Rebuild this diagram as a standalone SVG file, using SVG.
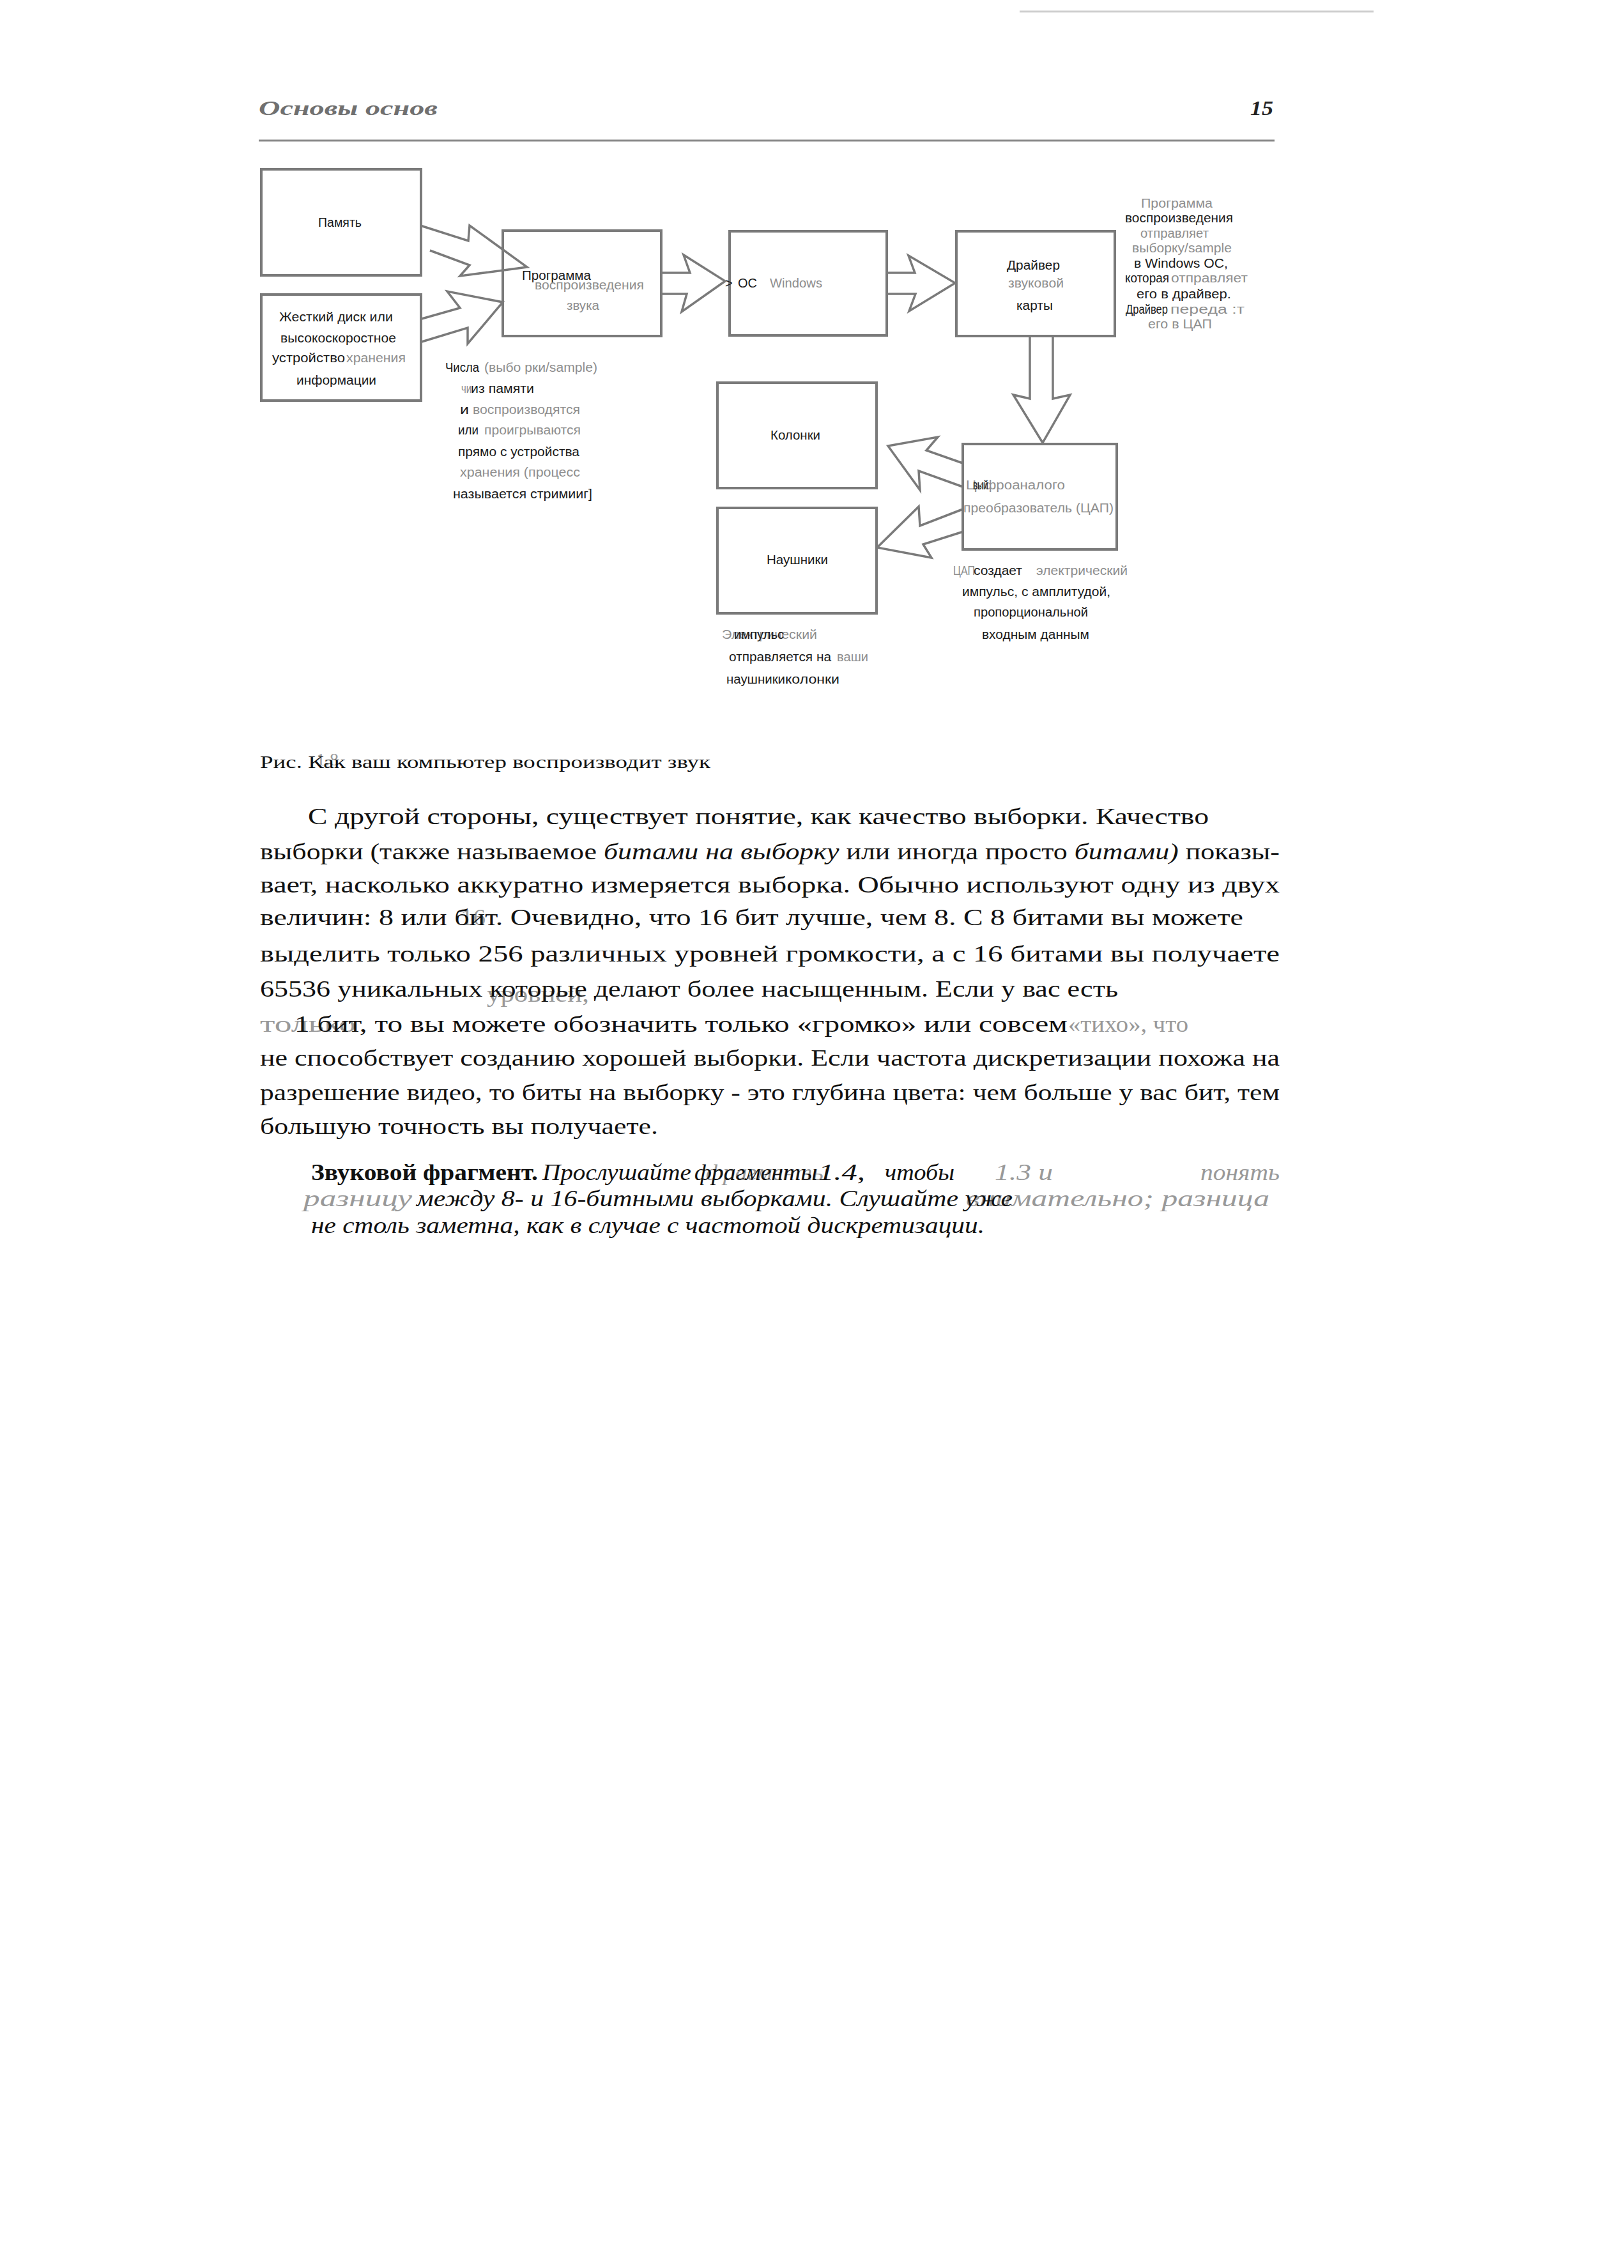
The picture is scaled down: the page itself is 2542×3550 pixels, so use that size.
<svg xmlns="http://www.w3.org/2000/svg" width="2542" height="3550" viewBox="0 0 2542 3550">
<style>
.lb{font-family:"Liberation Sans",Arial,sans-serif;font-size:20px;fill:#1a1a1a}
.lg{font-family:"Liberation Sans",Arial,sans-serif;font-size:20px;fill:#8e8e8e}
.bt{font-family:"Liberation Serif","Times New Roman",serif;font-size:35px;fill:#111}
.bg{font-family:"Liberation Serif","Times New Roman",serif;font-size:35px;fill:#999}
.it{font-style:italic}
.box{fill:none;stroke:#7a7a7a;stroke-width:4}
.arr{fill:none;stroke:#7a7a7a;stroke-width:3.5;stroke-linejoin:miter}
</style>
<rect width="2542" height="3550" fill="#ffffff"/>

<!-- page header -->
<line x1="1596" y1="18" x2="2150" y2="18" stroke="#cfcfcf" stroke-width="3"/>
<text x="405" y="180" font-family="Liberation Serif, serif" font-size="32" font-weight="bold" font-style="italic" fill="#707070" textLength="280" lengthAdjust="spacingAndGlyphs">Основы основ</text>
<text x="1957" y="180" font-family="Liberation Serif, serif" font-size="32" font-weight="bold" font-style="italic" fill="#222" textLength="36" lengthAdjust="spacingAndGlyphs">15</text>
<line x1="405" y1="220" x2="1995" y2="220" stroke="#8a8a8a" stroke-width="3"/>

<!-- nodes -->
<g id="n-memory">
<rect class="box" x="409" y="265" width="250" height="166"/>
<text class="lb" x="498" y="355" textLength="68" lengthAdjust="spacingAndGlyphs">Память</text>
</g>
<g id="n-disk">
<rect class="box" x="409" y="461" width="250" height="166"/>
<text class="lb" x="437" y="503" textLength="178" lengthAdjust="spacingAndGlyphs">Жесткий диск или</text>
<text class="lb" x="439" y="536" textLength="181" lengthAdjust="spacingAndGlyphs">высокоскоростное</text>
<text class="lb" x="426" y="567" textLength="114" lengthAdjust="spacingAndGlyphs">устройство</text>
<text class="lg" x="542" y="567" textLength="93" lengthAdjust="spacingAndGlyphs">хранения</text>
<text class="lb" x="464" y="602" textLength="125" lengthAdjust="spacingAndGlyphs">информации</text>
</g>
<g id="n-program">
<rect class="box" x="787" y="361" width="248" height="165"/>
<text class="lg" x="837" y="453" textLength="171" lengthAdjust="spacingAndGlyphs">воспроизведения</text>
<text class="lb" x="817" y="438" textLength="108" lengthAdjust="spacingAndGlyphs">Программа</text>
<text class="lg" x="887" y="485" textLength="51" lengthAdjust="spacingAndGlyphs">звука</text>
</g>
<g id="n-os">
<rect class="box" x="1142" y="362" width="246" height="163"/>
<text class="lb" x="1135" y="450">&gt;</text>
<text class="lb" x="1155" y="450" textLength="30" lengthAdjust="spacingAndGlyphs">ОС</text>
<text class="lg" x="1205" y="450" textLength="82" lengthAdjust="spacingAndGlyphs">Windows</text>
</g>
<g id="n-driver">
<rect class="box" x="1497" y="362" width="248" height="164"/>
<text class="lb" x="1576" y="422" textLength="83" lengthAdjust="spacingAndGlyphs">Драйвер</text>
<text class="lg" x="1578" y="450" textLength="87" lengthAdjust="spacingAndGlyphs">звуковой</text>
<text class="lb" x="1591" y="485" textLength="57" lengthAdjust="spacingAndGlyphs">карты</text>
</g>
<g id="n-speakers">
<rect class="box" x="1123" y="599" width="249" height="165"/>
<text class="lb" x="1206" y="688" textLength="78" lengthAdjust="spacingAndGlyphs">Колонки</text>
</g>
<g id="n-headphones">
<rect class="box" x="1123" y="795" width="249" height="165"/>
<text class="lb" x="1200" y="883" textLength="96" lengthAdjust="spacingAndGlyphs">Наушники</text>
</g>
<g id="n-dac">
<rect class="box" x="1507" y="695" width="241" height="165"/>
<text class="lg" x="1512" y="766" textLength="155" lengthAdjust="spacingAndGlyphs">Цифроаналого</text>
<text class="lb" x="1523" y="766" textLength="24" lengthAdjust="spacingAndGlyphs">вый</text>
<text class="lg" x="1508" y="802" textLength="235" lengthAdjust="spacingAndGlyphs">преобразователь (ЦАП)</text>
</g>

<!-- connectors -->
<g id="connectors">
<polyline class="arr" points="658,353 733,377 735,353 825,418 720,432 735,415 673,392"/>
<polyline class="arr" points="660,499 720,482 700,456 787,473 732,538 732,513 660,535"/>
<polyline class="arr" points="1037,427 1080,427 1070,399 1135,440 1067,488 1075,460 1037,460"/>
<polyline class="arr" points="1390,427 1432,427 1422,400 1495,443 1423,487 1433,460 1390,460"/>
<polyline class="arr" points="1612,526 1612,624 1586,618 1632,693 1675,618 1648,624 1648,526"/>
<polyline class="arr" points="1507,725 1450,705 1468,684 1390,698 1440,767 1438,737 1507,762"/>
<polyline class="arr" points="1507,797 1440,823 1438,793 1373,857 1458,873 1445,852 1508,832"/>
</g>

<!-- annotations -->
<g id="note-numbers">
<text class="lb" x="697" y="582" textLength="53" lengthAdjust="spacingAndGlyphs">Числа</text>
<text class="lg" x="758" y="582" textLength="177" lengthAdjust="spacingAndGlyphs">(выбо рки/sample)</text>
<text class="lg" x="722" y="615" textLength="16" lengthAdjust="spacingAndGlyphs">чи</text>
<text class="lb" x="737" y="615" textLength="99" lengthAdjust="spacingAndGlyphs">из памяти</text>
<text class="lb" x="720" y="648" textLength="14" lengthAdjust="spacingAndGlyphs">и</text>
<text class="lg" x="740" y="648" textLength="168" lengthAdjust="spacingAndGlyphs">воспроизводятся</text>
<text class="lb" x="717" y="680" textLength="32" lengthAdjust="spacingAndGlyphs">или</text>
<text class="lg" x="758" y="680" textLength="151" lengthAdjust="spacingAndGlyphs">проигрываются</text>
<text class="lb" x="717" y="714" textLength="190" lengthAdjust="spacingAndGlyphs">прямо с устройства</text>
<text class="lg" x="720" y="746" textLength="188" lengthAdjust="spacingAndGlyphs">хранения (процесс</text>
<text class="lb" x="709" y="780" textLength="218" lengthAdjust="spacingAndGlyphs">называется стримииг]</text>
</g>
<g id="note-driver">
<text class="lg" x="1786" y="325" textLength="112" lengthAdjust="spacingAndGlyphs">Программа</text>
<text class="lb" x="1761" y="348" textLength="169" lengthAdjust="spacingAndGlyphs">воспроизведения</text>
<text class="lg" x="1785" y="372" textLength="107" lengthAdjust="spacingAndGlyphs">отправляет</text>
<text class="lg" x="1772" y="395" textLength="156" lengthAdjust="spacingAndGlyphs">выборку/sample</text>
<text class="lb" x="1775" y="419" textLength="147" lengthAdjust="spacingAndGlyphs">в Windows ОС,</text>
<text class="lb" x="1761" y="442" textLength="69" lengthAdjust="spacingAndGlyphs">которая</text>
<text class="lg" x="1833" y="442" textLength="120" lengthAdjust="spacingAndGlyphs">отправляет</text>
<text class="lb" x="1779" y="467" textLength="148" lengthAdjust="spacingAndGlyphs">его в драйвер.</text>
<text class="lb" x="1762" y="491" textLength="66" lengthAdjust="spacingAndGlyphs">Драйвер</text>
<text class="lg" x="1832" y="491" textLength="116" lengthAdjust="spacingAndGlyphs">переда :т</text>
<text class="lg" x="1797" y="514" textLength="100" lengthAdjust="spacingAndGlyphs">его в ЦАП</text>
</g>
<g id="note-dac">
<text class="lg" x="1492" y="900" textLength="34" lengthAdjust="spacingAndGlyphs">ЦАП</text>
<text class="lb" x="1524" y="900" textLength="76" lengthAdjust="spacingAndGlyphs">создает</text>
<text class="lg" x="1622" y="900" textLength="143" lengthAdjust="spacingAndGlyphs">электрический</text>
<text class="lb" x="1506" y="933" textLength="232" lengthAdjust="spacingAndGlyphs">импульс, с амплитудой,</text>
<text class="lb" x="1524" y="965" textLength="179" lengthAdjust="spacingAndGlyphs">пропорциональной</text>
<text class="lb" x="1537" y="1000" textLength="168" lengthAdjust="spacingAndGlyphs">входным данным</text>
</g>
<g id="note-output">
<text class="lg" x="1130" y="1000" textLength="149" lengthAdjust="spacingAndGlyphs">Электрический</text>
<text class="lb" x="1149" y="1000" textLength="78" lengthAdjust="spacingAndGlyphs">импульс</text>
<text class="lb" x="1141" y="1035" textLength="160" lengthAdjust="spacingAndGlyphs">отправляется на</text>
<text class="lg" x="1310" y="1035" textLength="49" lengthAdjust="spacingAndGlyphs">ваши</text>
<text class="lb" x="1137" y="1070" textLength="92" lengthAdjust="spacingAndGlyphs">наушники</text>
<text class="lb" x="1229" y="1070" textLength="85" lengthAdjust="spacingAndGlyphs">колонки</text>
</g>

<!-- caption -->
<text x="495" y="1198" font-family="Liberation Serif, serif" font-size="28" fill="#9a9a9a">1.8</text>
<text x="407" y="1202" font-family="Liberation Serif, serif" font-size="28" fill="#111" textLength="705" lengthAdjust="spacingAndGlyphs">Рис. Как ваш компьютер воспроизводит звук</text>

<!-- body text -->
<text class="bt" x="482" y="1290" textLength="1410" lengthAdjust="spacingAndGlyphs">С другой стороны, существует понятие, как качество выборки. Качество</text>
<text class="bt" x="407" y="1345" textLength="1596" lengthAdjust="spacingAndGlyphs">выборки (также называемое <tspan class="it">битами на выборку</tspan> или иногда просто <tspan class="it">битами)</tspan> показы-</text>
<text class="bt" x="407" y="1397" textLength="1596" lengthAdjust="spacingAndGlyphs">вает, насколько аккуратно измеряется выборка. Обычно используют одну из двух</text>
<text class="bg" x="721" y="1448" textLength="39" lengthAdjust="spacingAndGlyphs">16</text>
<text class="bt" x="407" y="1448" textLength="1539" lengthAdjust="spacingAndGlyphs">величин: 8 или бит. Очевидно, что 16 бит лучше, чем 8. С 8 битами вы можете</text>
<text class="bt" x="407" y="1505" textLength="1596" lengthAdjust="spacingAndGlyphs">выделить только 256 различных уровней громкости, а с 16 битами вы получаете</text>
<text class="bg" x="762" y="1568" textLength="160" lengthAdjust="spacingAndGlyphs">уровней,</text>
<text class="bt" x="407" y="1560" textLength="1343" lengthAdjust="spacingAndGlyphs">65536 уникальных которые делают более насыщенным. Если у вас есть</text>
<text class="bg" x="407" y="1615" textLength="150" lengthAdjust="spacingAndGlyphs">только</text>
<text class="bt" x="461" y="1615" textLength="1210" lengthAdjust="spacingAndGlyphs">1 бит, то вы можете обозначить только «громко» или совсем</text>
<text class="bg" x="1672" y="1615" textLength="188" lengthAdjust="spacingAndGlyphs">«тихо», что</text>
<text class="bt" x="407" y="1668" textLength="1596" lengthAdjust="spacingAndGlyphs">не способствует созданию хорошей выборки. Если частота дискретизации похожа на</text>
<text class="bt" x="407" y="1722" textLength="1596" lengthAdjust="spacingAndGlyphs">разрешение видео, то биты на выборку - это глубина цвета: чем больше у вас бит, тем</text>
<text class="bt" x="407" y="1775" textLength="623" lengthAdjust="spacingAndGlyphs">большую точность вы получаете.</text>

<!-- sound fragment note -->
<text class="bt" x="487" y="1847" font-size="34" font-weight="bold" textLength="355" lengthAdjust="spacingAndGlyphs">Звуковой фрагмент.</text>
<text class="bt it" x="849" y="1847" font-size="34" textLength="233" lengthAdjust="spacingAndGlyphs">Прослушайте</text>
<text class="bg it" x="1105" y="1847" font-size="34" textLength="192" lengthAdjust="spacingAndGlyphs">фрагменты</text>
<text class="bt it" x="1087" y="1847" font-size="34" textLength="192" lengthAdjust="spacingAndGlyphs">фрагменты</text>
<text class="bt it" x="1281" y="1847" font-size="34" textLength="73" lengthAdjust="spacingAndGlyphs">1.4,</text>
<text class="bt it" x="1385" y="1847" font-size="34" textLength="109" lengthAdjust="spacingAndGlyphs">чтобы</text>
<text class="bg it" x="1557" y="1847" font-size="34" textLength="91" lengthAdjust="spacingAndGlyphs">1.3 и</text>
<text class="bg it" x="1879" y="1847" font-size="34" textLength="124" lengthAdjust="spacingAndGlyphs">понять</text>
<text class="bg it" x="475" y="1888" font-size="34" textLength="170" lengthAdjust="spacingAndGlyphs">разницу</text>
<text class="bg it" x="1512" y="1888" font-size="34" textLength="475" lengthAdjust="spacingAndGlyphs">внимательно; разница</text>
<text class="bt it" x="652" y="1888" font-size="34" textLength="933" lengthAdjust="spacingAndGlyphs">между 8- и 16-битными выборками. Слушайте уже</text>
<text class="bt it" x="487" y="1930" font-size="34" textLength="1054" lengthAdjust="spacingAndGlyphs">не столь заметна, как в случае с частотой дискретизации.</text>
</svg>
